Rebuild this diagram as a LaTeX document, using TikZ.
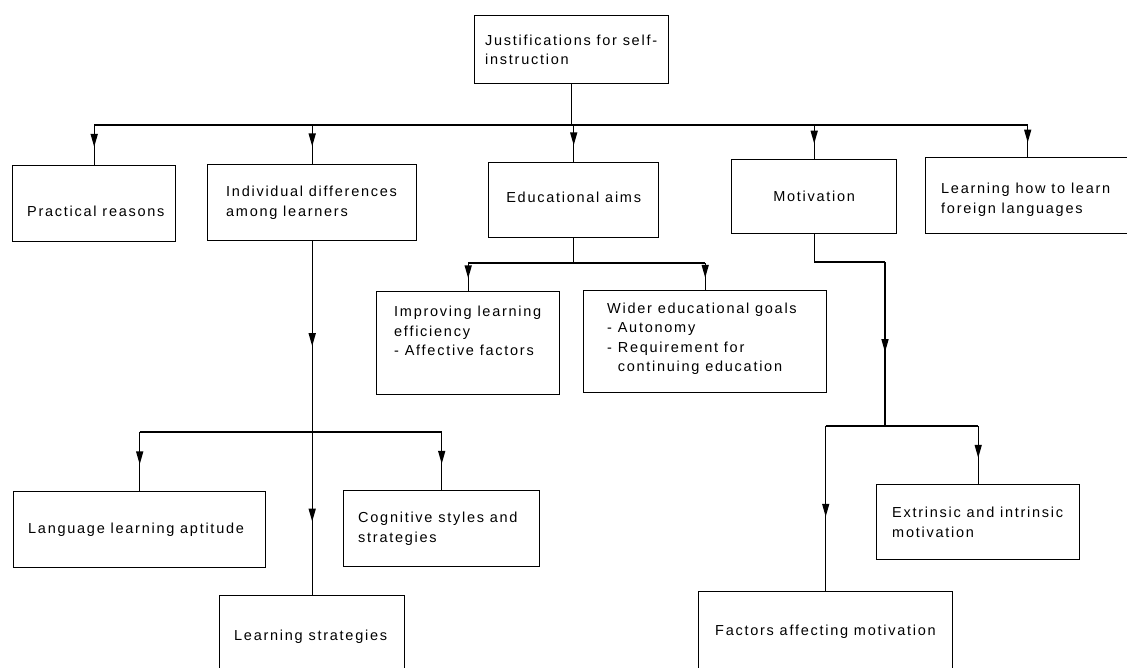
\documentclass[tikz,border=0pt]{standalone}
\usepackage{fontspec}
\setmainfont{Liberation Sans}[LetterSpace=12]
\usetikzlibrary{arrows.meta,decorations.markings}

\begin{document}
\begin{tikzpicture}[x=1pt, y=-1pt,
  box/.style={draw, line width=1.4pt, anchor=north west, inner sep=0pt},
  txt/.style={anchor=west, align=left, inner sep=0pt, font=\fontsize{14.5}{19.5}\selectfont},
  ctxt/.style={anchor=center, align=center, inner sep=0pt, font=\fontsize{14.5}{19.5}\selectfont},
  conn/.style={line width=1.4pt},
  midarr/.style={conn, postaction={decorate},
    decoration={markings, mark=at position 0.55 with {\arrow{Triangle[length=13pt, width=7pt]}}}}
]
\useasboundingbox (0,0) rectangle (1127,668);

\node[box, minimum width=194pt, minimum height=68pt, label={[txt, xshift=11pt]west:Justifications for self-\\instruction}] (root) at (474,15) {};

\node[box, minimum width=163pt, minimum height=76pt, label={[txt, xshift=15pt, yshift=-8pt]west:Practical reasons}] (prac) at (12,165) {};
\node[box, minimum width=209pt, minimum height=76pt, label={[txt, xshift=19pt]west:Individual differences\\among learners}] (ind) at (207,164) {};
\node[box, minimum width=170pt, minimum height=75pt, label={[ctxt, yshift=3pt]center:Educational aims}] (edu) at (488,162) {};
\node[box, minimum width=165pt, minimum height=74pt, label={[ctxt]center:Motivation}] (mot) at (731,159) {};
\node[box, minimum width=204pt, minimum height=76pt, label={[txt, xshift=16pt, yshift=-4pt]west:Learning how to learn\\foreign languages}] (learn) at (925,157) {};

\node[box, minimum width=183pt, minimum height=103pt, label={[txt, xshift=18pt, yshift=12pt]west:Improving learning\\efficiency\\- Affective factors}] (impr) at (376,291) {};
\node[box, minimum width=243pt, minimum height=102pt, label={[txt, xshift=24pt, yshift=3pt]west:Wider educational goals\\- Autonomy\\- Requirement for\\\phantom{- }continuing education}] (wide) at (583,290) {};

\node[box, minimum width=252pt, minimum height=76pt, label={[txt, xshift=15pt]west:Language learning aptitude}] (lang) at (13,491) {};
\node[box, minimum width=196pt, minimum height=76pt, label={[txt, xshift=15pt]west:Cognitive styles and\\strategies}] (cog) at (343,490) {};
\node[box, minimum width=185pt, minimum height=82pt, label={[txt, xshift=15pt]west:Learning strategies}] (ls) at (219,595) {};

\node[box, minimum width=203pt, minimum height=75pt, label={[txt, xshift=16pt]west:Extrinsic and intrinsic\\motivation}] (extr) at (876,484) {};
\node[box, minimum width=254pt, minimum height=80pt, label={[txt, xshift=17pt]west:Factors affecting motivation}] (fact) at (698,591) {};

\coordinate (bus1) at (0,125);
\coordinate (bus2) at (0,263);
\coordinate (bus3) at (0,432);
\coordinate (mk) at (885,262);
\coordinate (bus4) at (885,426);

\draw[conn] (root.south) -- (root.south |- bus1);
\draw[conn] (prac.north |- bus1) -- (learn.north |- bus1);
\foreach \n in {prac,ind,edu,mot,learn}
  \draw[midarr] (\n.north |- bus1) -- (\n.north);

\draw[conn] (edu.south) -- (edu.south |- bus2);
\draw[conn] (impr.north |- bus2) -- (wide.north |- bus2);
\foreach \n in {impr,wide}
  \draw[midarr] (\n.north |- bus2) -- (\n.north);

\draw[midarr] (ind.south) -- (ind.south |- bus3);
\draw[midarr] (ind.south |- bus3) -- (ls.north);
\draw[conn] (lang.north |- bus3) -- (cog.north |- bus3);
\foreach \n in {lang,cog}
  \draw[midarr] (\n.north |- bus3) -- (\n.north);

\draw[conn] (mot.south) |- (mk);
\draw[midarr] (mk) -- (bus4);
\draw[conn] (fact.north |- bus4) -- (extr.north |- bus4);
\foreach \n in {fact,extr}
  \draw[midarr] (\n.north |- bus4) -- (\n.north);
\end{tikzpicture}
\end{document}
